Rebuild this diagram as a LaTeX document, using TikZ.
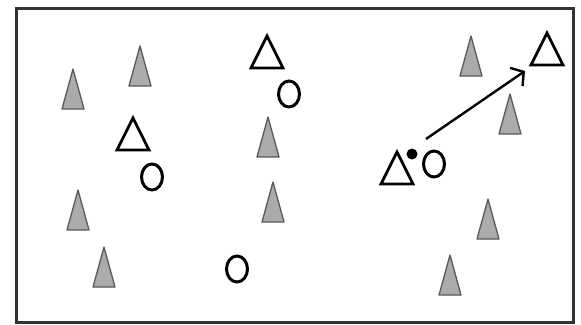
\documentclass[tikz,border=0pt]{standalone}
\usepackage{tikz}
\usetikzlibrary{arrows.meta,shapes.geometric}

\begin{document}
\begin{tikzpicture}[
  x=1pt,y=-1pt,
  frame/.style={draw=black!80,line width=3pt},
  ring/.style={draw,ellipse,line width=3pt,minimum width=21pt,minimum height=26pt,inner sep=0pt},
  dot/.style={circle,fill=black,minimum size=11pt,inner sep=0pt},
  arr/.style={-{Straight Barb[length=9pt,width=22pt,line width=2.4pt]},line width=2.4pt},
  cone/.pic={\filldraw[fill=black!33,draw=black!65,line width=1.3pt,line join=round]
    (0,0) -- (11,40) -- (-11,40) -- cycle;},
  mark/.pic={\draw[line width=2.8pt,line join=miter,fill=white]
    (0,0) -- (16,32) -- (-16,32) -- cycle;}
]
\useasboundingbox (0,0) rectangle (581,324);
\draw[frame] (16,8) rectangle (573,322);
% grey cones
\foreach \x/\y in {73/69,140/46,78/190,104/247,268/117,273/182,471/36,510/94,488/199,450/255}
  \pic at (\x,\y) {cone};
% open triangles
\foreach \x/\y in {267/36,133/118,547/33,397/152}
  \pic at (\x,\y) {mark};
% circles
\node[ring] (oa) at (289,94) {};
\node[ring] (ob) at (152,177) {};
\node[ring] (oc) at (237,269) {};
\node[ring] (od) at (434,164) {};
\node[dot] (dot) at (412,154) {};
\coordinate (start) at (426,139);
\coordinate (tip) at (525,71);
\draw[arr] (start) -- (tip);
\end{tikzpicture}
\end{document}
